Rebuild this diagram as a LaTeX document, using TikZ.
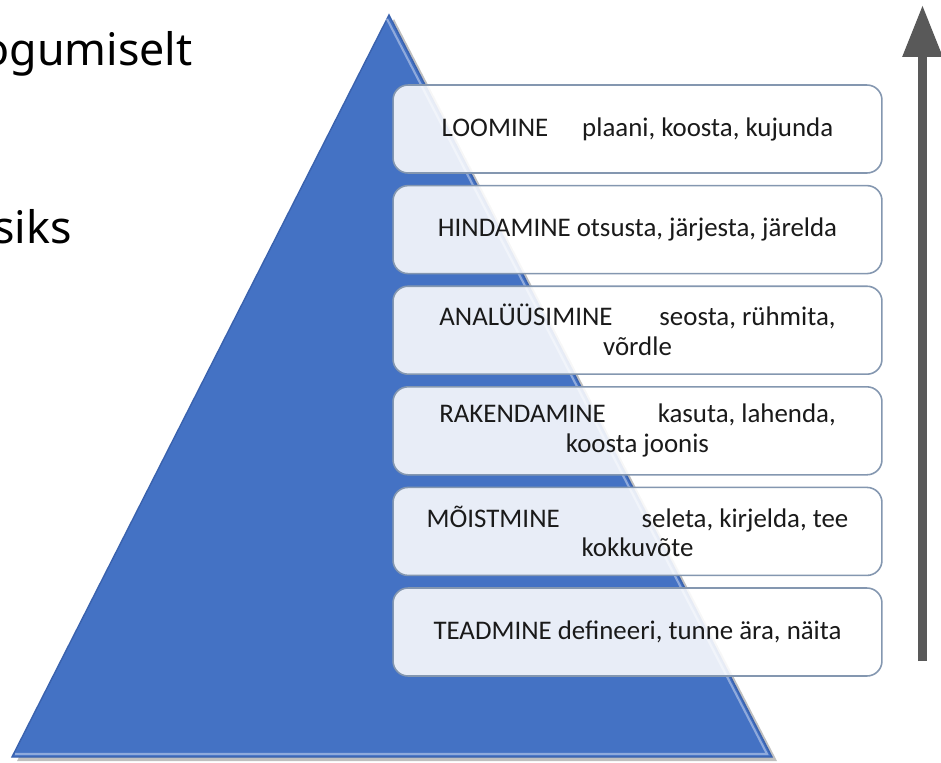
\documentclass[tikz,border=0pt]{standalone}
\usepackage{fontspec}
\setmainfont{Carlito}
\newfontfamily\slidefont{Noto Sans}
\usetikzlibrary{arrows.meta}

\definecolor{pyrblue}{HTML}{4472C4}
\definecolor{pyredge}{HTML}{3A62AE}
\definecolor{pyrlight}{HTML}{8FAADC}
\definecolor{boxline}{HTML}{8497B0}
\definecolor{arrowgray}{HTML}{595959}
\definecolor{inktext}{HTML}{1A1A1A}

\begin{document}
\begin{tikzpicture}[x=0.02cm,y=-0.02cm,
    level/.style={draw=boxline, line width=0.9pt, fill=white, fill opacity=0.88, text opacity=1,
      rounded corners=0.3cm, minimum width=9.78cm, minimum height=1.76cm, inner sep=0pt,
      align=center, text=inktext, font=\fontsize{15.3}{17}\selectfont},
    slidetext/.style={anchor=base east, inner sep=0pt, text=black, font=\slidefont\fontsize{25.5}{30}\selectfont}]
			\useasboundingbox (0,0) rectangle (941,762);
			\clip (0,0) rectangle (941,762);
			
			\node[slidetext] (line1) at (193, 65) {ogumiselt};
			\node[slidetext] (line2) at (72, 243) {siks};
			
			\coordinate (apex) at (389, 15);
			\coordinate (baseleft) at (12, 757);
			\coordinate (baseright) at (772, 757);
			\fill[black, opacity=0.25] ([shift={(5,4)}]apex) -- ([shift={(5,4)}]baseright) -- ([shift={(5,4)}]baseleft) -- cycle;
			\fill[pyrblue, draw=pyredge, line width=0.8pt] (apex) -- (baseright) -- (baseleft) -- cycle;
			\draw[pyrlight, line width=1.2pt] ([shift={(3,-3)}]baseleft) -- ([shift={(-5,-3)}]baseright) -- ([shift={(-2,4)}]apex);
			
			\node[level] (loomine) at (637.5, 129) {LOOMINE\hspace{0.68cm}plaani, koosta, kujunda};
			\node[level] (hindamine) at (637.5, 229.6) {HINDAMINE otsusta, järjesta, järelda};
			\node[level] (analyysimine) at (637.5, 330.2) {ANALÜÜSIMINE\hspace{0.94cm}seosta, rühmita,\\võrdle};
			\node[level] (rakendamine) at (637.5, 430.8) {RAKENDAMINE\hspace{1.04cm}kasuta, lahenda,\\koosta joonis};
			\node[level] (moistmine) at (637.5, 531.4) {MÕISTMINE\hspace{1.64cm}seleta, kirjelda, tee\\kokkuvõte};
			\node[level] (teadmine) at (637.5, 632) {TEADMINE defineeri, tunne ära, näita};
			
			\coordinate (arrowbottom) at (922.5, 661);
			\coordinate (arrowtop) at (922.5, 5);
			\draw[arrowgray, line width=0.18cm, -{Triangle[width=0.76cm,length=1.04cm]}] (arrowbottom) -- (arrowtop);
\end{tikzpicture}
\end{document}
